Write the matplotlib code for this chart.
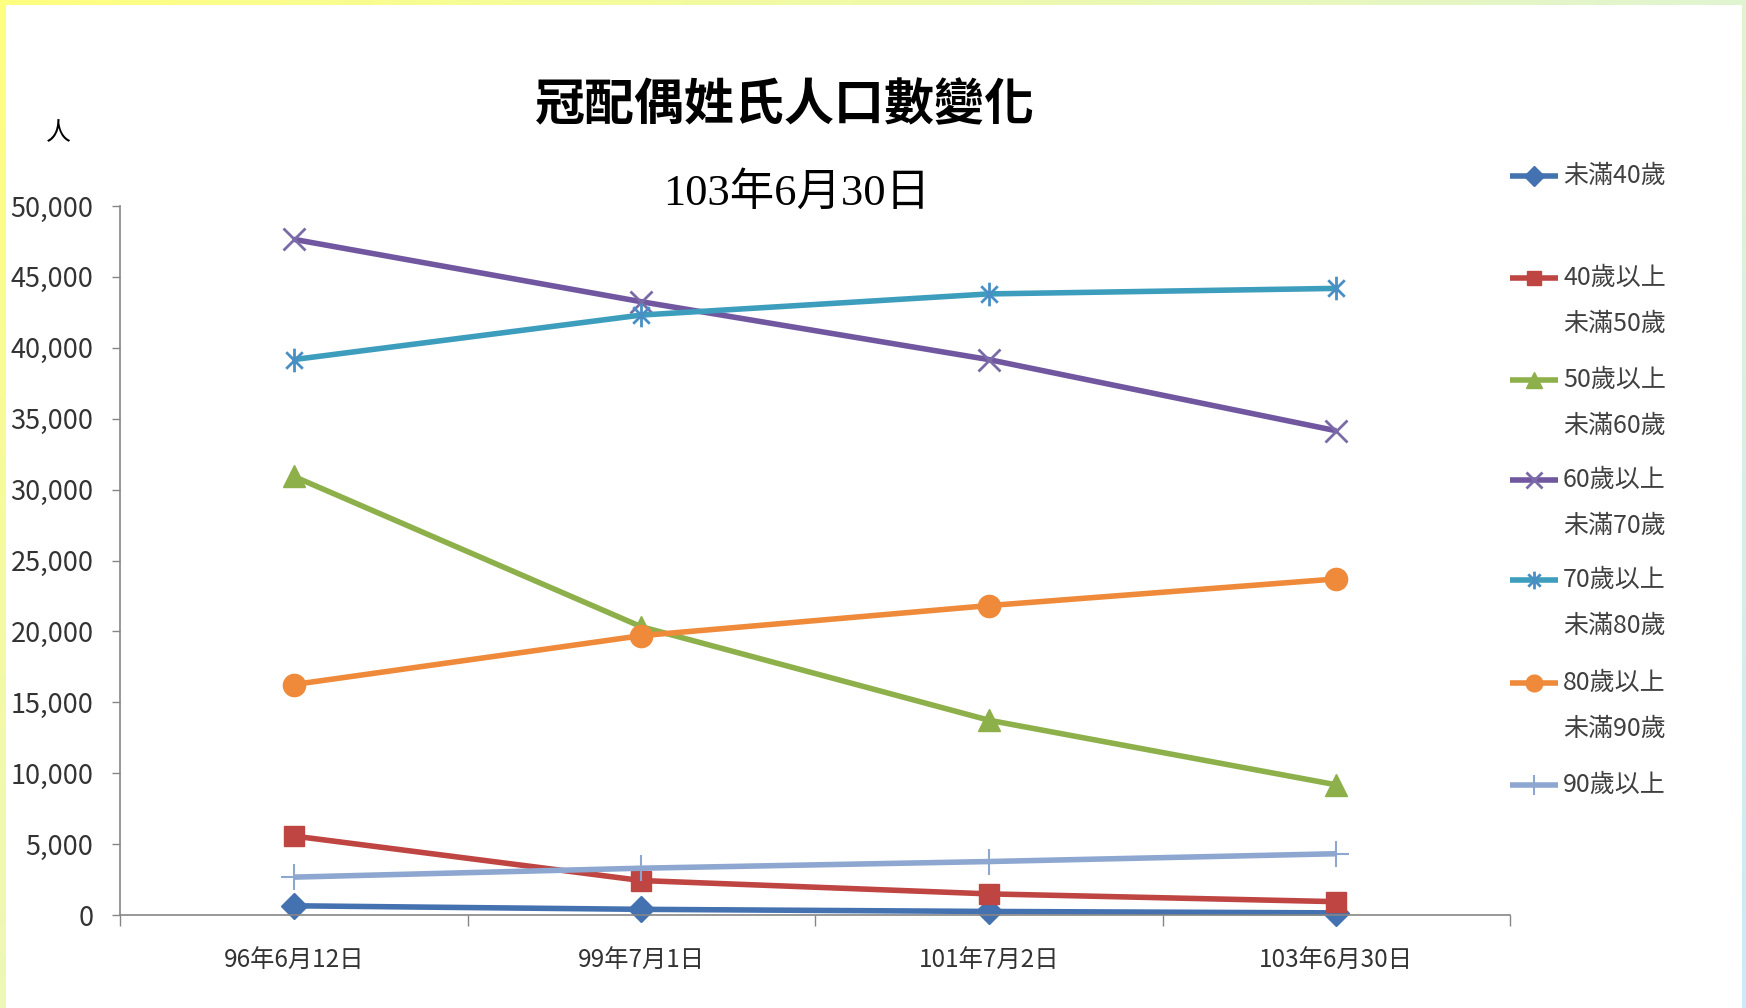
import numpy as np
import matplotlib
matplotlib.use('Agg')
import matplotlib.pyplot as plt
from matplotlib.lines import Line2D
from matplotlib.path import Path

plt.rcParams['font.family'] = ['Liberation Sans Narrow', 'Noto Sans CJK TC', 'DejaVu Sans']

# data
dates = ['96年6月12日', '99年7月1日', '101年7月2日', '103年6月30日']
under40 = [650, 400, 250, 150]
age40_50 = [5570, 2430, 1490, 940]
age50_60 = [30930, 20330, 13740, 9180]
age60_70 = [47650, 43250, 39170, 34150]
age70_80 = [39170, 42310, 43800, 44190]
age80_90 = [16250, 19700, 21820, 23700]
over90 = [2670, 3300, 3770, 4320]

labels = ['未滿40歲', '40歲以上\n未滿50歲', '50歲以上\n未滿60歲', '60歲以上\n未滿70歲',
          '70歲以上\n未滿80歲', '80歲以上\n未滿90歲', '90歲以上']
yticks = list(range(0, 50001, 5000))

# excel-ish asterisk marker: X plus vertical bar
star = Path([(0, -1), (0, 1), (-0.7, -0.7), (0.7, 0.7), (-0.7, 0.7), (0.7, -0.7)],
            [Path.MOVETO, Path.LINETO, Path.MOVETO, Path.LINETO, Path.MOVETO, Path.LINETO])

series = [under40, age40_50, age50_60, age60_70, age70_80, age80_90, over90]
styles = [
    dict(color='#4472B0', marker='D', ms=13, mfc='#4472B0', mec='#4472B0'),
    dict(color='#BE4541', marker='s', ms=14, mfc='#BE4541', mec='#BE4541'),
    dict(color='#8DB04A', marker='^', ms=16, mfc='#8DB04A', mec='#8DB04A'),
    dict(color='#7157A0', marker='x', ms=16, mec='#7A6BA8', mew=2),
    dict(color='#3D9DBD', marker=star, ms=17, mec='#4A8FC4', mew=2),
    dict(color='#EE8A3A', marker='o', ms=16, mfc='#EE8A3A', mec='#EE8A3A'),
    dict(color='#8EA7D0', marker='+', ms=19, mec='#8EA7D0', mew=1.5),
]

W, H = 1746, 1008
fig = plt.figure(figsize=(W / 100, H / 100), dpi=100)

# gradient frame around the picture
bg = fig.add_axes([0, 0, 1, 1], zorder=-10)
yy, xx = np.mgrid[0:1:H * 1j, 0:1:W * 1j]
tl, tr = np.array([1, 1, 0.5]), np.array([0.88, 0.96, 0.82])
bl, br = np.array([0.93, 0.97, 0.72]), np.array([0.80, 0.92, 0.98])
col = (tl * ((1 - xx) * (1 - yy))[..., None] + tr * (xx * (1 - yy))[..., None]
       + bl * ((1 - xx) * yy)[..., None] + br * (xx * yy)[..., None])
img = np.ones((H, W, 3))
r, c = np.mgrid[0:H, 0:W]
frame = (r < 5) | (c < 6) | (c >= W - 4)
img[frame] = col[frame]
bg.imshow(img, aspect='auto', interpolation='nearest')
bg.axis('off')

ax = fig.add_axes([120 / W, 1 - 915 / H, (1510 - 120) / W, (915 - 206) / H])
x = np.arange(len(dates))
for vals, st in zip(series, styles):
    ax.plot(x, vals, lw=4, clip_on=False, solid_capstyle='butt', **st)

ax.set_xlim(-0.5, len(dates) - 0.5)
ax.set_ylim(0, 50000)
ax.set_yticks(yticks)
ax.set_yticklabels([f'{v:,}' for v in yticks])
ax.set_xticks(np.arange(-0.5, len(dates), 1.0))
ax.set_xticklabels([])
ax.set_xticks(x, dates, minor=True)
ax.tick_params(axis='x', which='major', length=8, width=1, color='#868686', direction='out')
ax.tick_params(axis='x', which='minor', length=0, pad=24, labelsize=17.5, labelcolor='#333333')
ax.tick_params(axis='y', length=6, width=1, color='#868686', pad=13, labelsize=19.5,
               labelcolor='#333333')
for s in ['top', 'right']:
    ax.spines[s].set_visible(False)
for s in ['left', 'bottom']:
    ax.spines[s].set_color('#868686')
    ax.spines[s].set_linewidth(1.2)

fig.text(58 / W, 1 - 133 / H, '人', ha='center', va='center', fontsize=18,
         family=['Noto Sans CJK TC'])
fig.text(785 / W, 1 - 106 / H, '冠配偶姓氏人口數變化', ha='center', va='center',
         fontsize=36, fontweight='bold', family=['Noto Sans CJK TC'])
fig.text(797 / W, 1 - 193 / H, '103年6月30日', ha='center', va='center',
         fontsize=32, family=['Liberation Serif', 'Noto Sans CJK TC'])

# legend, drawn the way excel stacks it
rows = [176, 278, 380, 480, 580, 683, 785]
for lab, st, ry in zip(labels, styles, rows):
    fy = 1 - ry / H
    fig.add_artist(Line2D([1510 / W, 1558 / W], [fy, fy], transform=fig.transFigure,
                          color=st['color'], lw=4, solid_capstyle='butt'))
    mst = {k: v for k, v in st.items() if k not in ('color', 'ms')}
    fig.add_artist(Line2D([1534 / W], [fy], transform=fig.transFigure, ls='none',
                          ms=st['ms'] * 0.75, **mst))
    for i, line in enumerate(lab.split('\n')):
        fig.text(1563 / W, 1 - (ry + 46 * i) / H, line, ha='left', va='center',
                 fontsize=18, color='#404040')

fig.savefig('out.png', dpi=100)
